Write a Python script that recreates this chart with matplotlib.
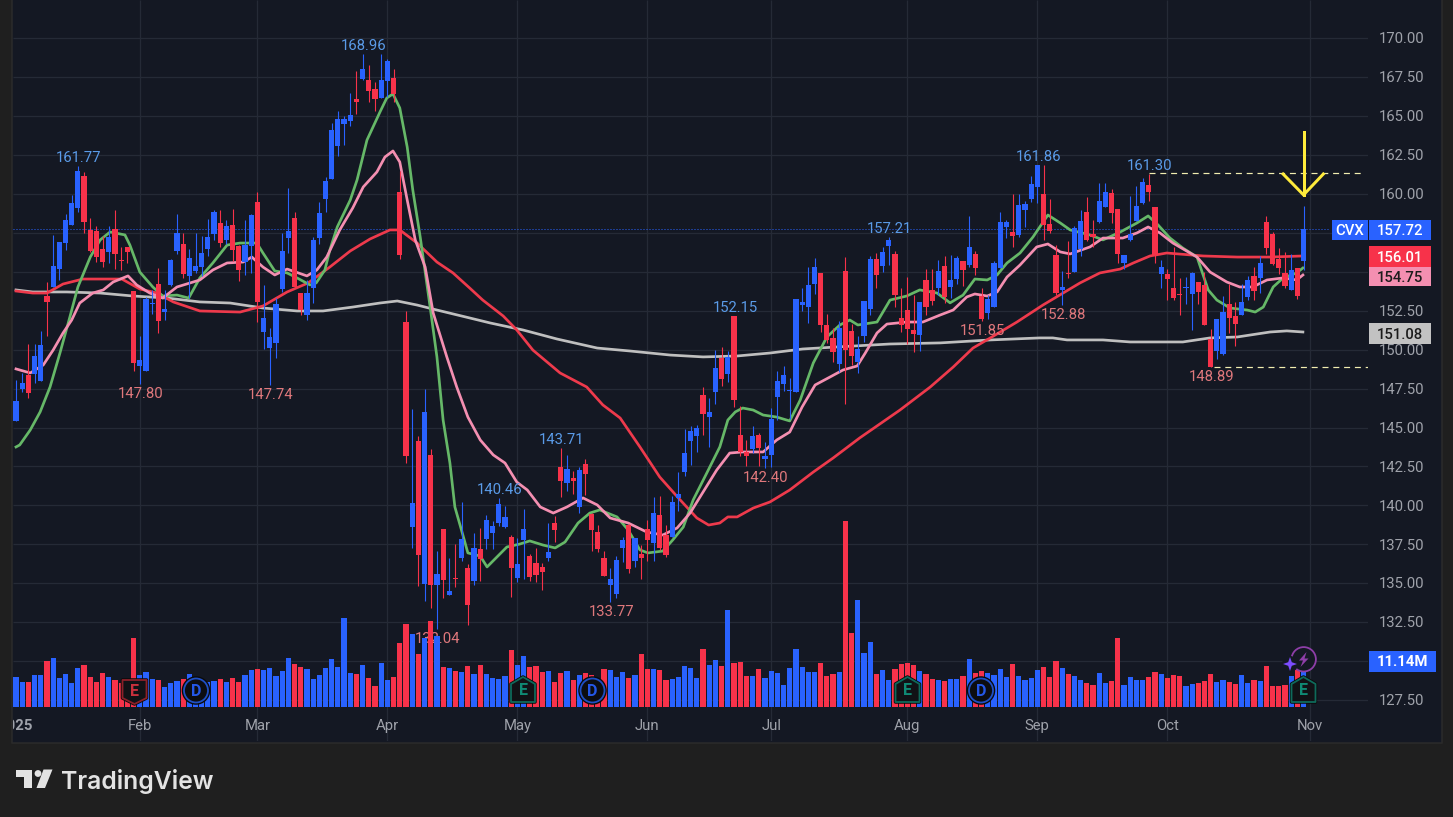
import matplotlib
matplotlib.use('Agg')
import matplotlib.pyplot as plt
from matplotlib.patches import Rectangle, Polygon, Circle

plt.rcParams['font.family'] = ['Roboto', 'DejaVu Sans']

# candles (index 0 = first visible session, 208 = last)
open_ = [145.42, 147.47, 148.37, 148.44, 147.99, 153.44, 154.02, 155.18, 156.85, 158.00,
         159.09, 161.15, 157.68, 157.62, 156.46, 156.27, 157.74, 155.75, 156.59, 153.76,
         148.95, 148.63, 152.93, 154.21, 152.42, 154.15, 156.33, 156.78, 154.73, 155.03,
         155.30, 156.46, 157.42, 158.13, 157.04, 158.00, 156.65, 155.62, 156.65, 159.47,
         151.12, 150.10, 150.42, 153.88, 157.16, 158.44, 153.63, 152.22, 153.95, 157.16,
         159.66, 160.95, 163.06, 164.48, 164.67, 166.08, 167.37, 167.30, 166.72, 166.15,
         167.24, 167.43, 160.11, 151.77, 138.61, 144.13, 134.95, 143.23, 134.88, 138.48,
         134.24, 135.33, 136.62, 135.97, 135.14, 137.19, 137.84, 138.22, 138.86, 138.61,
         137.96, 135.33, 137.77, 136.76, 136.30, 136.04, 136.62, 138.86, 142.46, 141.43,
         141.75, 139.89, 142.65, 139.44, 138.29, 136.62, 134.88, 134.31, 137.26, 138.73,
         136.42, 136.87, 138.48, 137.58, 139.38, 138.09, 137.96, 140.47, 142.14, 144.13,
         144.45, 147.08, 145.67, 147.27, 149.46, 148.43, 152.15, 144.51, 143.42, 143.62,
         144.51, 142.97, 143.23, 146.95, 147.79, 147.34, 147.27, 152.86, 152.73, 154.21,
         154.91, 151.58, 150.74, 149.07, 155.04, 151.19, 149.20, 150.87, 152.60, 155.81,
         155.36, 156.64, 156.13, 152.02, 152.54, 151.25, 150.93, 154.46, 153.82, 153.95,
         155.36, 154.01, 154.53, 155.68, 155.43, 156.13, 153.43, 152.34, 152.73, 155.23,
         157.86, 157.54, 157.35, 158.96, 159.66, 160.43, 159.98, 158.06, 156.07, 153.82,
         154.91, 154.98, 156.46, 158.83, 157.42, 158.19, 159.15, 160.05, 159.02, 155.56,
         157.03, 158.25, 159.41, 160.56, 159.15, 154.85, 154.85, 153.95, 153.57, 153.95,
         153.57, 154.34, 154.14, 150.67, 149.91, 149.71, 152.92, 152.15, 152.22, 153.37,
         154.72, 154.59, 158.19, 157.42, 155.81, 154.91, 153.82, 155.24, 155.69]
high = [148.05, 148.48, 150.36, 150.36, 151.20, 154.34, 157.36, 156.91, 158.71, 159.93,
        161.77, 161.40, 158.45, 157.94, 157.29, 157.94, 158.96, 156.59, 156.59, 153.76,
        150.87, 153.38, 153.83, 155.24, 153.83, 155.82, 158.71, 157.49, 156.46, 157.49,
        157.29, 158.39, 158.96, 158.96, 158.32, 159.03, 156.70, 158.33, 158.70, 160.11,
        154.14, 151.38, 153.31, 157.48, 160.37, 158.83, 153.63, 154.46, 157.22, 159.47,
        161.07, 164.54, 165.31, 165.00, 166.47, 167.88, 168.96, 168.27, 167.17, 168.97,
        168.65, 168.01, 161.46, 152.47, 146.18, 144.45, 147.47, 143.61, 137.07, 138.48,
        136.62, 137.52, 140.21, 136.23, 138.22, 138.54, 139.38, 138.99, 140.46, 139.95,
        138.09, 137.90, 139.76, 136.90, 137.26, 136.30, 138.86, 139.31, 143.71, 143.23,
        142.20, 142.46, 142.97, 139.50, 138.74, 137.07, 135.97, 136.74, 137.96, 138.80,
        137.90, 137.45, 139.06, 140.53, 140.60, 138.73, 140.60, 142.14, 144.90, 145.09,
        145.15, 147.60, 146.89, 149.97, 150.16, 149.90, 152.15, 146.37, 144.19, 145.09,
        144.64, 144.06, 146.25, 148.60, 148.94, 148.17, 153.24, 153.95, 155.30, 155.88,
        154.91, 152.28, 151.38, 151.83, 155.94, 151.64, 150.87, 153.11, 156.00, 156.20,
        156.58, 157.21, 156.32, 153.95, 154.65, 153.50, 153.05, 155.17, 155.17, 155.75,
        156.00, 156.07, 156.00, 155.68, 158.57, 156.30, 153.95, 153.50, 155.68, 158.83,
        158.31, 159.98, 159.98, 159.53, 161.14, 161.86, 161.85, 159.66, 156.71, 155.04,
        156.97, 157.93, 158.96, 159.80, 158.32, 160.69, 160.69, 160.30, 159.02, 156.07,
        159.86, 160.50, 161.01, 161.30, 159.15, 155.75, 155.17, 156.58, 154.59, 154.66,
        154.98, 154.34, 154.98, 151.32, 151.96, 153.44, 154.21, 153.05, 154.21, 154.72,
        155.30, 156.00, 158.57, 157.55, 156.52, 156.26, 156.13, 155.24, 159.22]
low = [145.42, 147.30, 146.92, 147.84, 147.99, 150.87, 154.02, 154.47, 156.40, 158.00,
       158.84, 157.49, 156.27, 155.63, 155.30, 155.56, 155.18, 155.11, 155.56, 148.63,
       147.80, 148.63, 152.29, 151.07, 151.90, 154.08, 156.14, 154.60, 153.31, 154.92,
       154.73, 156.01, 157.04, 156.59, 156.78, 155.69, 154.40, 154.78, 154.91, 151.77,
       150.03, 147.74, 149.45, 153.69, 156.19, 154.01, 152.22, 151.89, 152.99, 156.77,
       158.83, 160.95, 162.42, 163.13, 164.35, 165.12, 167.30, 165.89, 165.31, 166.15,
       166.21, 165.89, 155.81, 142.71, 137.26, 134.82, 133.87, 133.41, 132.04, 134.05,
       134.24, 134.75, 136.42, 132.32, 134.88, 135.14, 137.19, 137.19, 138.67, 138.54,
       134.11, 135.08, 135.27, 135.14, 135.08, 134.56, 136.42, 137.64, 140.53, 140.92,
       140.73, 139.51, 140.66, 137.07, 137.00, 135.46, 133.77, 134.05, 136.36, 135.65,
       136.07, 135.28, 136.42, 136.42, 137.13, 136.68, 137.96, 139.63, 141.88, 142.59,
       143.42, 144.51, 143.74, 146.50, 147.66, 147.92, 146.31, 143.16, 142.52, 143.36,
       142.52, 142.40, 142.46, 145.48, 147.34, 145.54, 147.27, 152.47, 151.70, 153.56,
       151.13, 150.42, 149.20, 148.56, 146.50, 149.01, 148.49, 150.48, 152.22, 153.95,
       154.98, 155.43, 152.73, 151.12, 150.35, 149.84, 149.90, 152.22, 152.86, 153.50,
       152.98, 153.31, 154.20, 154.08, 155.30, 154.78, 151.85, 151.96, 152.73, 155.23,
       157.16, 156.58, 157.22, 157.86, 159.47, 159.41, 157.03, 157.48, 153.50, 152.88,
       154.59, 154.98, 156.00, 156.97, 156.58, 158.12, 159.15, 158.12, 155.56, 155.17,
       156.97, 158.25, 159.35, 159.54, 155.56, 153.95, 153.18, 153.18, 152.22, 152.92,
       151.26, 152.92, 151.57, 148.89, 149.40, 149.65, 151.06, 150.23, 152.22, 153.18,
       153.18, 153.63, 156.13, 155.43, 154.85, 153.95, 153.82, 153.24, 155.11]
close = [146.70, 147.86, 147.22, 149.59, 150.30, 153.06, 155.37, 156.91, 158.32, 159.41,
         161.47, 158.19, 156.33, 155.95, 155.63, 157.23, 156.14, 155.69, 156.27, 149.14,
         149.33, 153.25, 152.99, 151.84, 152.61, 155.75, 157.49, 154.86, 155.88, 155.37,
         156.20, 157.23, 158.84, 156.85, 157.94, 156.40, 155.11, 156.71, 158.63, 153.05,
         152.02, 150.80, 152.92, 156.32, 157.61, 154.01, 152.54, 153.63, 157.03, 158.76,
         160.82, 164.09, 164.80, 164.80, 165.06, 165.89, 168.01, 166.60, 166.08, 167.30,
         168.52, 166.40, 156.07, 143.16, 140.15, 136.81, 145.99, 134.88, 135.59, 135.20,
         134.50, 135.27, 137.84, 133.60, 137.26, 136.55, 139.06, 138.67, 140.08, 139.25,
         135.97, 136.23, 138.48, 135.40, 135.53, 135.72, 137.00, 138.41, 141.56, 142.33,
         141.56, 142.27, 142.01, 138.41, 137.19, 135.46, 135.27, 136.49, 137.77, 135.91,
         137.90, 136.62, 137.77, 139.50, 137.26, 136.81, 140.21, 140.73, 143.36, 144.77,
         144.96, 145.86, 145.99, 148.81, 148.11, 149.52, 146.76, 143.42, 143.16, 144.45,
         143.68, 143.16, 145.54, 147.98, 148.37, 147.40, 153.24, 153.05, 154.14, 155.30,
         151.58, 150.61, 149.84, 151.38, 149.97, 149.59, 150.03, 153.11, 155.81, 154.78,
         156.26, 157.03, 153.50, 151.57, 151.32, 151.00, 153.05, 152.73, 153.11, 155.04,
         153.37, 154.46, 155.87, 155.10, 156.58, 155.23, 151.96, 153.24, 155.55, 158.19,
         158.19, 157.29, 159.28, 159.34, 160.63, 161.85, 157.99, 157.61, 153.63, 154.01,
         154.85, 157.80, 158.25, 157.03, 157.23, 159.54, 160.11, 158.77, 156.13, 156.07,
         157.42, 159.22, 160.76, 160.11, 156.07, 155.30, 154.53, 153.31, 153.50, 154.02,
         154.91, 153.69, 151.57, 148.89, 151.96, 152.41, 152.02, 151.64, 153.05, 154.47,
         153.76, 155.56, 156.52, 155.49, 155.24, 154.08, 155.11, 153.44, 157.72]
# volume in millions
volume = [7.3, 6.1, 6.1, 7.7, 7.7, 11.1, 11.9, 7.0, 8.0, 5.8, 9.4, 10.2, 7.3, 6.1, 8.2, 7.3, 6.5, 5.8, 6.5, 16.7,
          7.7, 8.5, 6.8, 6.5, 4.8, 5.8, 6.3, 6.8, 8.0, 6.5, 5.7, 6.1, 6.3, 6.8, 6.1, 7.0, 6.1, 7.7, 9.0, 9.2,
          9.0, 9.4, 7.5, 8.7, 11.9, 10.4, 9.7, 9.2, 6.8, 7.7, 9.4, 11.6, 9.7, 21.5, 8.2, 8.0, 10.2, 7.0, 5.1, 10.7,
          6.5, 7.3, 15.5, 20.1, 17.7, 12.8, 16.7, 20.8, 17.2, 9.7, 9.4, 8.7, 8.5, 9.9, 8.0, 10.2, 8.0, 7.0, 6.8, 7.5,
          13.8, 10.2, 12.3, 9.7, 9.9, 8.5, 8.7, 6.1, 8.2, 8.7, 6.5, 7.7, 8.2, 7.7, 6.5, 9.2, 9.0, 7.3, 8.5, 7.0,
          7.7, 12.8, 9.2, 9.2, 9.0, 6.5, 6.8, 7.3, 9.9, 9.4, 7.0, 14.0, 10.2, 11.4, 9.9, 23.5, 10.7, 10.9, 7.5, 7.5,
          9.2, 7.0, 8.7, 8.2, 5.3, 9.4, 14.0, 9.7, 8.5, 8.5, 10.7, 7.5, 8.0, 8.5, 45.0, 17.9, 25.9, 13.1, 15.7, 8.0,
          9.0, 6.5, 9.2, 10.4, 10.7, 10.2, 8.7, 8.0, 6.8, 6.5, 6.3, 6.8, 6.8, 7.5, 11.6, 8.2, 8.7, 8.2, 7.7, 9.2,
          7.3, 10.4, 7.5, 6.5, 7.0, 9.0, 9.7, 7.3, 11.1, 9.4, 8.0, 7.5, 6.5, 5.8, 5.3, 8.2, 5.8, 6.3, 16.7, 5.3,
          7.3, 6.5, 6.5, 7.3, 8.5, 8.0, 7.0, 7.7, 7.5, 5.1, 5.6, 5.8, 6.3, 8.0, 6.1, 6.5, 6.1, 5.6, 7.7, 5.8,
          6.5, 6.3, 9.9, 5.1, 5.1, 5.3, 7.5, 9.0, 11.14]

# moving averages, sampled along the curves (x in candle index)
green_x = [0, 0.6, 2.3, 3.9, 5.5, 7.1, 8.7, 10, 12, 13.6, 15.2, 17.6, 18.4, 20, 22.1, 23.7, 26, 27.9, 29.7, 31.8,
           34.1, 36.2, 38.9, 39.9, 41.8, 43.8, 45.4, 47.5, 48.5, 49.9, 50.7, 51.9, 54, 55.1, 56.7, 58.8, 59.9, 60.9, 62, 63.2,
           64.1, 65.3, 66.9, 68, 69, 70.1, 70.9, 72.1, 73, 75, 76.1, 77.7, 79.3, 81.4, 83, 85.1, 87.1, 88.7, 90.8, 92.7,
           94.3, 97.1, 98.9, 100.8, 102.1, 104.5, 106.1, 107.8, 109.4, 111.6, 113.7, 115, 116.2, 117.4, 119.1, 120.7, 122.9, 125, 126.7, 128.8,
           131, 133.1, 134.7, 136, 139.1, 141.2, 143.9, 146, 148.8, 150.9, 153, 154.9, 156.9, 158.5, 160.1, 162.2, 164.3, 166.7, 168.7, 170.3,
           173.5, 175.6, 178.4, 181.1, 182.9, 184.5, 186.4, 188.5, 190.8, 192.6, 194, 196.1, 198.9, 200.2, 201.5, 203.1, 204.7, 206.9, 207.9]
green_y = [143.75, 143.88, 144.84, 146.0, 147.6, 149.78, 152.09, 154.02, 155.94, 157.04, 157.55, 157.36, 156.71, 154.98, 154.02, 153.44, 153.5, 153.31, 154.6, 155.56,
           156.71, 156.84, 156.84, 156.2, 155.05, 154.92, 154.6, 154.15, 154.28, 155.11, 156.39, 157.87, 159.6, 160.89, 163.45, 165.25, 166.15, 166.41, 165.51, 163.0,
           160.25, 157.23, 152.74, 149.53, 145.48, 142.72, 139.9, 138.23, 136.95, 136.75, 136.05, 136.69, 137.33, 137.52, 137.72, 137.46, 137.27, 137.65, 138.87, 139.51,
           139.71, 139.26, 138.42, 137.14, 136.95, 137.07, 137.78, 138.61, 140.35, 142.08, 143.75, 145.48, 146.0, 146.25, 146.12, 145.8, 145.67, 145.42, 146.77, 149.14,
           150.81, 151.58, 151.9, 151.58, 151.77, 153.18, 153.44, 153.83, 153.63, 153.0, 153.5, 154.53, 154.47, 154.79, 155.56, 156.2, 157.23, 158.64, 158.13, 157.68,
           157.36, 157.04, 157.55, 158.13, 158.58, 158.0, 157.17, 156.52, 155.94, 153.83, 153.18, 152.67, 152.54, 152.41, 152.73, 154.02, 154.6, 154.92, 155.24]
pink_x = [0, 2.3, 4.4, 6, 7.6, 9, 10.3, 12.4, 14.1, 15.7, 18.1, 19.5, 21.6, 23.7, 26, 29.7, 31.8, 34.1, 36.7, 38.1,
          39.9, 41.8, 43.8, 47, 48.6, 50.2, 52.3, 54.4, 56.1, 58.3, 59.6, 60.9, 62, 63.2, 64.5, 66.1, 67.4, 69.6, 71.2, 73,
          75, 77.1, 79, 80.9, 82.6, 84.7, 86.8, 89, 91.6, 93.9, 96, 98.9, 101.9, 104.5, 106.8, 108.9, 111, 113.2, 115.3, 117.4,
          120.7, 122.9, 125, 127, 129.1, 131.5, 133.6, 135.9, 137.2, 139.1, 140.7, 143.9, 146.5, 149.3, 151.4, 153.6, 154.9, 156.9, 158.5, 160.1,
          162.2, 164.9, 166.7, 168.7, 170.3, 173.5, 175.6, 178.8, 181.1, 182.9, 184.8, 186.9, 190.8, 192.9, 195.6, 197.7, 199.8, 202.1, 204.7, 206.9, 207.9]
pink_y = [148.76, 148.5, 149.01, 149.97, 151.07, 151.9, 152.99, 153.63, 153.83, 154.34, 154.73, 154.15, 153.63, 153.31, 154.02, 154.47, 155.11, 155.56, 155.62, 155.94,
          155.3, 154.79, 155.17, 154.73, 155.11, 155.94, 157.68, 159.09, 160.44, 161.4, 162.36, 162.75, 162.04, 159.6, 157.04, 155.3, 152.35, 149.53, 147.6, 145.67,
          144.2, 143.24, 142.72, 141.5, 140.99, 139.9, 139.51, 139.9, 140.48, 140.03, 139.19, 138.87, 138.29, 138.1, 138.55, 139.51, 140.86, 142.27, 143.36, 143.43,
          143.43, 144.2, 144.71, 146.32, 147.73, 148.24, 148.69, 148.95, 149.78, 151.07, 151.64, 151.77, 151.77, 152.22, 152.54, 153.38, 153.57, 153.44, 153.7, 154.66,
          155.43, 156.59, 156.78, 156.27, 156.14, 156.59, 157.16, 157.16, 157.49, 157.87, 157.49, 156.84, 155.94, 154.98, 154.34, 154.02, 154.02, 154.47, 154.6, 154.47, 154.79]
red_x = [0, 2.7, 5, 7.6, 10.8, 14.1, 17.1, 20, 22.8, 25.4, 29.7, 36.2, 39.9, 43.8, 47.2, 50.7, 54, 57.2, 60.4, 62,
         64.8, 68, 70.6, 73.3, 75.4, 78.7, 80.9, 83.5, 87.9, 92.2, 94.8, 97.6, 100.8, 104, 107.3, 110, 111.9, 113.7, 115, 116.5,
         119.1, 121.8, 125, 128.8, 132, 136.3, 142.8, 147.7, 151.4, 154.6, 157.4, 161.7, 165.9, 171.9, 175.1, 178.4, 180.5, 183.2, 185.9, 191.8,
         197.3, 202.6, 207.9]
red_y = [153.76, 153.63, 153.63, 154.21, 154.53, 154.53, 154.53, 153.89, 153.63, 153.06, 152.48, 152.41, 152.8, 153.7, 154.28, 155.3, 156.33, 157.1, 157.68, 157.68,
         156.84, 155.62, 154.92, 153.95, 153.18, 152.16, 151.26, 149.97, 148.5, 147.6, 146.45, 145.61, 143.75, 141.82, 140.35, 139.19, 138.74, 138.87, 139.26, 139.26,
         139.83, 140.22, 140.99, 142.14, 143.04, 144.33, 146.12, 147.6, 148.88, 150.1, 150.75, 151.77, 152.86, 154.28, 154.92, 155.17, 155.56, 156.01, 156.2, 156.01,
         155.94, 155.94, 156.01]
gray_x = [0, 2.7, 8.2, 13.6, 18.9, 24.4, 29.7, 34.6, 39.9, 45.4, 49.6, 54.4, 58.8, 61.6, 64.8, 68, 73.3, 76.6, 81.9, 87.4,
          93.9, 99.2, 105.7, 111, 116.5, 121.8, 127.1, 132.6, 141.2, 149.3, 157.4, 165.4, 167.5, 169.8, 175.6, 180, 188.5, 192.9, 197.3, 202.6,
          205.3, 207.9]
gray_y = [153.83, 153.7, 153.7, 153.63, 153.44, 153.31, 153.06, 152.99, 152.67, 152.48, 152.48, 152.73, 152.99, 153.12, 152.86, 152.54, 152.03, 151.71, 151.26, 150.68,
          150.1, 149.91, 149.65, 149.53, 149.59, 149.78, 150.04, 150.17, 150.36, 150.43, 150.62, 150.75, 150.75, 150.62, 150.62, 150.49, 150.49, 150.75, 150.81, 151.13,
          151.2, 151.13]

high_labels = {10: 161.77, 56: 168.96, 78: 140.46, 88: 143.71, 116: 152.15, 141: 157.21, 165: 161.86, 183: 161.30}
low_labels = {20: 147.80, 41: 147.74, 68: 132.04, 96: 133.77, 121: 142.40, 156: 151.85, 169: 152.88, 193: 148.89}
month_pos = [20, 39, 60, 81, 102, 122, 144, 165, 186, 209]
month_names = ['Feb', 'Mar', 'Apr', 'May', 'Jun', 'Jul', 'Aug', 'Sep', 'Oct', 'Nov']
price_ticks = [127.5 + 2.5 * k for k in range(18)]
hidden_ticks = [130.0, 155.0, 157.5]  # sit under the price tags

# colours
BG = '#141823'
OUTER = '#1f1f1f'
BLUE = '#2962ff'
RED = '#f7324a'
GRID = '#252a36'
AXTXT = '#9fa2aa'

W, H = 1453, 817
fig = plt.figure(figsize=(W / 100, H / 100), dpi=100, facecolor=OUTER)


def px_rect(x0, y0, x1, y1):
    return [x0 / W, 1 - y1 / H, (x1 - x0) / W, (y1 - y0) / H]


def px(v):
    return v * 0.72


# base layer, pixel coordinates: panel and logo
base = fig.add_axes([0, 0, 1, 1], zorder=0)
base.set_xlim(0, W)
base.set_ylim(H, 0)
base.axis('off')
base.add_patch(Rectangle((12, -2), 1430, 744.5, fc=BG, ec='#2b2b2b', lw=px(1.5)))
base.add_patch(Polygon([(16, 769.5), (32, 769.5), (32, 788), (24, 788), (24, 777), (16, 777)], fc='#e3e3e3', ec='none'))
base.add_patch(Circle((38, 773.5), 3.4, fc='#e3e3e3', ec='none'))
base.add_patch(Polygon([(43.5, 769.5), (52.5, 769.5), (45, 788), (36.5, 788)], fc='#e3e3e3', ec='none'))
base.text(61, 788.5, 'TradingView', color='#e3e3e3', fontsize=17.8, fontweight='semibold', family=['Inter', 'DejaVu Sans'],
          va='baseline', ha='left')

CH_X0, CH_X1, CH_Y1 = 13, 1368, 741
rect = px_rect(CH_X0, 0, CH_X1, CH_Y1)
xlim = ((CH_X0 - 16) / 6.19, (CH_X1 - 16) / 6.19)
ylim = (170 - (CH_Y1 - 38) / 15.58, 170 + 38 / 15.58)

# grid layer
ax_grid = fig.add_axes(rect, zorder=1)
ax_grid.set_facecolor('none')
ax_grid.set_xlim(xlim)
ax_grid.set_ylim(ylim)
ax_grid.axis('off')
ax_grid.hlines(price_ticks, xlim[0], xlim[1], color=GRID, lw=px(1.3))
ax_grid.vlines(month_pos, ylim[0], ylim[1], color=GRID, lw=px(1.3))

for i, v in low_labels.items():
    if i == 68:  # this one sits under the volume bars
        ax_grid.annotate(f'{v:.2f}', (i, v), xytext=(px(1), px(-10)), textcoords='offset points', ha='center', va='center',
                         color='#e0787c', fontsize=10.7)

# the year is cut off by the left edge of the pane
ax_grid.text(0, 170 - (726 - 38) / 15.58, '2025', color=AXTXT, fontsize=10.7, fontweight='bold', ha='center', va='center',
             clip_on=True)

# volume layer, 0 sits on the pane's baseline
ax_vol = fig.add_axes(rect, zorder=2)
ax_vol.set_facecolor('none')
ax_vol.set_xlim(xlim)
VOL_PER_PX = 0.2422
ax_vol.set_ylim((707 - CH_Y1) * VOL_PER_PX, 707 * VOL_PER_PX)
ax_vol.axis('off')
xs = list(range(len(close)))
colors = [BLUE if c >= o else RED for o, c in zip(open_, close)]
ax_vol.bar(xs, volume, width=0.84, color=colors, linewidth=0)

# price layer
ax = fig.add_axes(rect, zorder=3)
ax.set_facecolor('none')
ax.set_xlim(xlim)
ax.set_ylim(ylim)
ax.axis('off')

ax.plot([xlim[0], 212], [close[-1], close[-1]], color=BLUE, lw=px(1), ls=(0, (1, 2)), zorder=1)
ax.plot(gray_x, gray_y, color='#bfbfbf', lw=px(2.7), zorder=2)
ax.plot(red_x, red_y, color='#ee3a4c', lw=px(2.7), zorder=2)
ax.plot(green_x, green_y, color='#66b868', lw=px(2.7), zorder=2)
ax.plot(pink_x, pink_y, color='#f48fb1', lw=px(2.7), zorder=2)

ax.vlines(xs, low, high, colors=colors, lw=px(1.1), zorder=3)
body_bottom = [min(o, c) for o, c in zip(open_, close)]
body_h = [max(abs(c - o), 0.07) for o, c in zip(open_, close)]
ax.bar(xs, body_h, bottom=body_bottom, width=0.84, color=colors, linewidth=0, zorder=4)

# high / low price labels
for i, v in high_labels.items():
    ax.annotate(f'{v:.2f}', (i, v), xytext=(px(1), px(8)), textcoords='offset points', ha='center', va='center',
                color='#5a9be8', fontsize=10.7, zorder=5)
for i, v in low_labels.items():
    if i != 68:
        ax.annotate(f'{v:.2f}', (i, v), xytext=(px(1), px(-10)), textcoords='offset points', ha='center', va='center',
                    color='#e0787c', fontsize=10.7, zorder=5)

# hand drawn levels and arrow
ax.plot([183, xlim[1] - 1], [161.35, 161.35], color='#f2eeb0', lw=px(1.2), ls=(0, (5, 4)), zorder=5)
ax.plot([193.5, xlim[1]], [148.89, 148.89], color='#f2eeb0', lw=px(1.2), ls=(0, (5, 4)), zorder=5)
ax.plot([208, 208], [163.95, 159.95], color='#ffeb3b', lw=px(3), zorder=6)
ax.plot([204.7, 208, 211.2], [161.27, 159.93, 161.27], color='#ffeb3b', lw=px(3), zorder=6, solid_joinstyle='miter')

# overlay, pixel coordinates: axis labels, tags, event icons
ov = fig.add_axes([0, 0, 1, 1], zorder=4)
ov.set_xlim(0, W)
ov.set_ylim(H, 0)
ov.axis('off')
ov.patch.set_alpha(0)

for p in price_ticks:
    if p not in hidden_ticks:
        ov.text(1401.5, 39.2 + (170 - p) * 15.58, f'{p:.2f}', color=AXTXT, fontsize=10.7, ha='center', va='center')

for m, name in zip(month_pos, month_names):
    ov.text(16 + 6.19 * m, 726, name, color=AXTXT, fontsize=10.7, ha='center', va='center')


def tag(x0, y0, x1, y1, txt, fc, tc, bold=False):
    ov.add_patch(Rectangle((x0, y0), x1 - x0, y1 - y0, fc=fc, ec='none', zorder=5))
    ov.text((x0 + x1) / 2, (y0 + y1) / 2 + 1, txt, color=tc, fontsize=10.7, ha='center', va='center', zorder=6,
            fontweight='bold' if bold else 'medium')


tag(1332, 219.5, 1368, 240, 'CVX', BLUE, '#ffffff')
tag(1369, 219.5, 1431, 240, f'{close[-1]:.2f}', BLUE, '#ffffff')
tag(1369, 246, 1431, 267, '156.01', RED, '#ffffff')
tag(1369, 267, 1431, 286, '154.75', '#f48fb1', '#1c1c1c')
tag(1369, 323, 1431, 344, '151.08', '#c2c2c2', '#1c1c1c')
tag(1369, 651, 1436, 672, '11.14M', BLUE, '#ffffff', bold=True)


def earn_icon(cx, cy, edge, letter_col, point_down):
    if point_down:
        pts = [(-12, -11), (12, -11), (12, 7), (0, 13), (-12, 7)]
    else:
        pts = [(0, -13), (12, -6), (12, 12), (-12, 12), (-12, -6)]
    ov.add_patch(Polygon([(cx + a, cy + b) for a, b in pts], fc='#111216', ec='#0a0a0a', lw=px(3.5), zorder=7, joinstyle='round'))
    ov.add_patch(Polygon([(cx + a, cy + b) for a, b in pts], fc='#111216', ec=edge, lw=px(1.8), zorder=7, joinstyle='round'))
    ov.text(cx, cy + 0.5, 'E', color=letter_col, fontsize=11.5, fontweight='bold', ha='center', va='center', zorder=8)


def div_icon(cx, cy):
    ov.add_patch(Circle((cx, cy), 13.5, fc='#0c0d11', ec='#0a0a0a', lw=px(1.5), zorder=7))
    ov.add_patch(Circle((cx, cy), 12, fc='#0c0d11', ec='#1f4fc4', lw=px(1.8), zorder=7))
    ov.text(cx, cy + 0.5, 'D', color='#2457e6', fontsize=11.5, fontweight='bold', ha='center', va='center', zorder=8)


earn_icon(134.5, 691, '#8c2029', '#c9303c', True)
div_icon(196, 690.5)
earn_icon(523, 690, '#0e6a5b', '#0f8a74', False)
div_icon(592.5, 690.5)
earn_icon(907.5, 690, '#0e6a5b', '#0f8a74', False)
div_icon(981, 690.5)
earn_icon(1303.5, 690, '#0e6a5b', '#0f8a74', False)

# lightning + star marker above last candle
ov.add_patch(Circle((1303.7, 659.3), 12.2, fc=BG, ec='#8e3ea8', lw=px(1.8), zorder=7))
ov.add_patch(Polygon([(1306.5, 652), (1299, 660.5), (1303, 660.5), (1300.5, 667), (1308.5, 658.5), (1304.5, 658.5)],
                     fc='#8e3ea8', ec='none', zorder=8))
sx, sy = 1290, 664
ov.add_patch(Circle((sx, sy), 8, fc=BG, ec='none', zorder=8))
ov.add_patch(Polygon([(sx, sy - 7), (sx + 1.8, sy - 1.8), (sx + 7, sy), (sx + 1.8, sy + 1.8), (sx, sy + 7),
                      (sx - 1.8, sy + 1.8), (sx - 7, sy), (sx - 1.8, sy - 1.8)], fc='#7c4dff', ec='none', zorder=9))

fig.savefig('out.png', dpi=100, facecolor=OUTER)
